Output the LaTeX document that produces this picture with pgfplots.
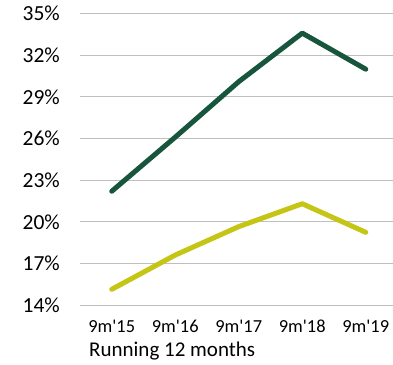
\documentclass[border=0pt]{standalone}
\usepackage{pgfplots}
\pgfplotsset{compat=1.18}
\usepackage{fontspec}
\setmainfont[Ligatures=ResetAll]{Carlito}
\definecolor{darkg}{HTML}{17553C}
\definecolor{yelg}{HTML}{C5C516}
\definecolor{gridg}{HTML}{BFBFBF}
\begin{document}
\begin{tikzpicture}
\begin{axis}[
  scale only axis,
  anchor=south west,
  at={(80pt,59pt)},
  width=317.5pt, height=291.3pt,
  xmin=-0.5, xmax=4.5,
  ymin=14, ymax=35,
  axis x line*=bottom, axis y line*=left,
  y axis line style={draw=none},
  x axis line style={gridg, line width=1pt},
  ytick={14,17,20,23,26,29,32,35},
  yticklabels={14\%,17\%,20\%,23\%,26\%,29\%,32\%,35\%},
  ytick style={draw=none},
  yticklabel style={font=\fontsize{21.5}{24}\selectfont, anchor=east, inner sep=0pt, xshift=-20pt},
  ymajorgrids,
  grid style={gridg, line width=1pt},
  xtick={0,1,2,3,4},
  xticklabels={9m\textquotesingle15,9m\textquotesingle16,9m\textquotesingle17,9m\textquotesingle18,9m\textquotesingle19},
  xtick style={draw=none},
  xticklabel style={font=\fontsize{18.4}{20}\selectfont, anchor=north, inner sep=0pt, yshift=-15pt},
  extra x ticks={-0.5,0.5,1.5,2.5,3.5,4.5},
  extra x tick labels={},
  extra x tick style={grid=none, tick align=outside, major tick length=5pt, tick style={gridg, line width=1pt, draw=gridg}},
  clip=false,
]
\addplot[darkg, line width=5pt, line cap=round, line join=round] coordinates {(0,22.2) (1,26.1) (2,30.1) (3,33.6) (4,31.0)};
\addplot[yelg, line width=5pt, line cap=round, line join=round] coordinates {(0,15.13) (1,17.6) (2,19.65) (3,21.3) (4,19.24)};
\end{axis}
\node[anchor=base west, inner sep=0pt, font=\fontsize{21}{24}\selectfont] at (89pt,8pt) {Running 12 months};
\pgfresetboundingbox
\useasboundingbox (0,0) rectangle (393pt,364pt);
\end{tikzpicture}
\end{document}
